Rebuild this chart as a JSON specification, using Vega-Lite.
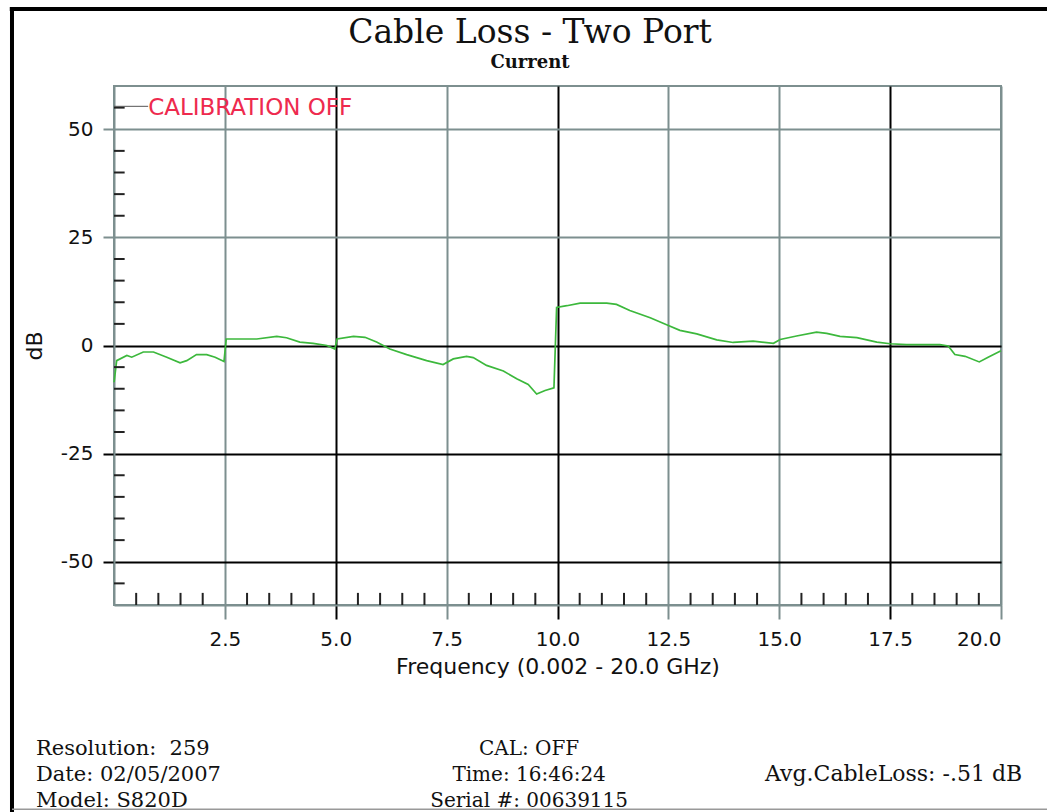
{
  "$schema": "https://vega.github.io/schema/vega-lite/v6.json",
  "width": 887,
  "height": 519,
  "autosize": "none",
  "padding": {"left": 114, "top": 86, "right": 46, "bottom": 207},
  "background": "white",
  "config": {
    "view": {"stroke": "#7d8f8f", "strokeWidth": 2},
    "axis": {
      "labelFont": "DejaVu Sans",
      "labelFontSize": 20,
      "labelColor": "#111",
      "titleFont": "DejaVu Sans",
      "titleFontSize": 22,
      "titleFontWeight": "normal",
      "titleColor": "#111",
      "domainColor": "#7d8f8f",
      "domainWidth": 2,
      "gridWidth": 2,
      "tickWidth": 2
    }
  },
  "datasets": {
    "trace": [
      {"f": 0.002, "db": -8.5}, {"f": 0.06, "db": -3.5}, {"f": 0.29, "db": -2.3}, {"f": 0.40, "db": -2.7},
      {"f": 0.66, "db": -1.5}, {"f": 0.89, "db": -1.5}, {"f": 1.19, "db": -2.7}, {"f": 1.49, "db": -4.0},
      {"f": 1.64, "db": -3.5}, {"f": 1.86, "db": -2.1}, {"f": 2.09, "db": -2.1}, {"f": 2.28, "db": -2.7},
      {"f": 2.48, "db": -3.7}, {"f": 2.53, "db": 1.5}, {"f": 2.84, "db": 1.5}, {"f": 3.22, "db": 1.5},
      {"f": 3.67, "db": 2.1}, {"f": 3.89, "db": 1.8}, {"f": 4.19, "db": 0.8}, {"f": 4.49, "db": 0.5},
      {"f": 4.80, "db": 0.0}, {"f": 4.98, "db": -0.8}, {"f": 5.03, "db": 1.5}, {"f": 5.40, "db": 2.1},
      {"f": 5.66, "db": 1.9}, {"f": 5.92, "db": 0.8}, {"f": 6.22, "db": -0.8}, {"f": 6.60, "db": -2.1},
      {"f": 7.05, "db": -3.5}, {"f": 7.42, "db": -4.4}, {"f": 7.65, "db": -3.1}, {"f": 7.95, "db": -2.5},
      {"f": 8.10, "db": -2.8}, {"f": 8.40, "db": -4.6}, {"f": 8.78, "db": -5.9}, {"f": 9.08, "db": -7.7},
      {"f": 9.34, "db": -9.0}, {"f": 9.53, "db": -11.2}, {"f": 9.72, "db": -10.4}, {"f": 9.92, "db": -9.8},
      {"f": 9.98, "db": 8.8}, {"f": 10.21, "db": 9.2}, {"f": 10.51, "db": 9.8}, {"f": 11.11, "db": 9.8},
      {"f": 11.33, "db": 9.5}, {"f": 11.63, "db": 8.1}, {"f": 12.09, "db": 6.4}, {"f": 12.46, "db": 4.8},
      {"f": 12.76, "db": 3.5}, {"f": 13.14, "db": 2.7}, {"f": 13.59, "db": 1.3}, {"f": 13.96, "db": 0.7},
      {"f": 14.41, "db": 1.0}, {"f": 14.87, "db": 0.5}, {"f": 15.02, "db": 1.4}, {"f": 15.39, "db": 2.2},
      {"f": 15.84, "db": 3.1}, {"f": 16.07, "db": 2.8}, {"f": 16.37, "db": 2.1}, {"f": 16.75, "db": 1.8},
      {"f": 17.20, "db": 0.8}, {"f": 17.50, "db": 0.4}, {"f": 17.87, "db": 0.2}, {"f": 18.62, "db": 0.2},
      {"f": 18.81, "db": -0.1}, {"f": 18.96, "db": -2.1}, {"f": 19.19, "db": -2.5}, {"f": 19.51, "db": -3.8},
      {"f": 19.71, "db": -2.7}, {"f": 20.0, "db": -1.2}
    ],
    "xminor": [
      {"f": 0.5}, {"f": 1.0}, {"f": 1.5}, {"f": 2.0},
      {"f": 3.0}, {"f": 3.5}, {"f": 4.0}, {"f": 4.5},
      {"f": 5.5}, {"f": 6.0}, {"f": 6.5}, {"f": 7.0},
      {"f": 8.0}, {"f": 8.5}, {"f": 9.0}, {"f": 9.5},
      {"f": 10.5}, {"f": 11.0}, {"f": 11.5}, {"f": 12.0},
      {"f": 13.0}, {"f": 13.5}, {"f": 14.0}, {"f": 14.5},
      {"f": 15.5}, {"f": 16.0}, {"f": 16.5}, {"f": 17.0},
      {"f": 18.0}, {"f": 18.5}, {"f": 19.0}, {"f": 19.5}
    ],
    "yminor": [
      {"db": 55}, {"db": 45}, {"db": 40}, {"db": 35}, {"db": 30},
      {"db": 20}, {"db": 15}, {"db": 10}, {"db": 5},
      {"db": -5}, {"db": -10}, {"db": -15}, {"db": -20},
      {"db": -30}, {"db": -35}, {"db": -40}, {"db": -45}, {"db": -55}
    ],
    "one": [{}]
  },
  "layer": [
    {
      "data": {"name": "trace"},
      "mark": {"type": "line", "color": "#3cb83c", "strokeWidth": 1.7, "interpolate": "linear"},
      "encoding": {
        "x": {
          "field": "f", "type": "quantitative",
          "scale": {"domain": [0, 20], "nice": false, "zero": false},
          "axis": {
            "values": [2.5, 5, 7.5, 10, 12.5, 15, 17.5, 20],
            "format": ".1f",
            "title": "Frequency (0.002 - 20.0 GHz)",
            "titlePadding": 7,
            "labelPadding": 10,
            "tickSize": 14,
            "grid": true,
            "gridColor": {"condition": {"test": "datum.value == 5 || datum.value == 10 || datum.value == 17.5", "value": "#000000"}, "value": "#7d8f8f"},
            "tickColor": {"condition": {"test": "datum.value == 5 || datum.value == 10 || datum.value == 17.5", "value": "#000000"}, "value": "#7d8f8f"}
          }
        },
        "y": {
          "field": "db", "type": "quantitative",
          "scale": {"domain": [-60, 60], "nice": false, "zero": false},
          "axis": {
            "values": [-50, -25, 0, 25, 50],
            "labelExpr": "'' + datum.value",
            "title": "dB",
            "titlePadding": 14,
            "labelPadding": 10,
            "tickSize": 11,
            "grid": true,
            "gridColor": {"condition": {"test": "datum.value <= 0", "value": "#000000"}, "value": "#7d8f8f"},
            "tickColor": {"condition": {"test": "datum.value <= 0", "value": "#000000"}, "value": "#7d8f8f"}
          }
        }
      }
    },
    {
      "data": {"name": "xminor"},
      "mark": {"type": "rule", "color": "#222", "strokeWidth": 2},
      "encoding": {
        "x": {"field": "f", "type": "quantitative"},
        "y": {"datum": -60},
        "y2": {"datum": -57.2}
      }
    },
    {
      "data": {"name": "yminor"},
      "mark": {"type": "rule", "color": "#222", "strokeWidth": 2},
      "encoding": {
        "y": {"field": "db", "type": "quantitative"},
        "x": {"datum": 0},
        "x2": {"datum": 0.24}
      }
    },
    {
      "data": {"name": "one"},
      "mark": {"type": "rule", "color": "#555", "strokeWidth": 1},
      "encoding": {"x": {"datum": 0}, "x2": {"datum": 0.77}, "y": {"datum": 55.3}}
    },
    {
      "data": {"name": "one"},
      "mark": {"type": "text", "align": "left", "baseline": "middle", "font": "DejaVu Sans", "fontSize": 23, "color": "#ee2a4e"},
      "encoding": {"x": {"datum": 0.77}, "y": {"datum": 54.9}, "text": {"value": "CALIBRATION OFF"}}
    },
    {
      "data": {"name": "one"},
      "mark": {"type": "text", "align": "center", "baseline": "alphabetic", "font": "DejaVu Serif", "fontSize": 33, "color": "#111"},
      "encoding": {"x": {"datum": 9.38}, "y": {"datum": 69.9}, "text": {"value": "Cable Loss - Two Port"}}
    },
    {
      "data": {"name": "one"},
      "mark": {"type": "text", "align": "center", "baseline": "alphabetic", "font": "DejaVu Serif", "fontSize": 18, "fontWeight": "bold", "color": "#111"},
      "encoding": {"x": {"datum": 9.38}, "y": {"datum": 64.2}, "text": {"value": "Current"}}
    },
    {
      "data": {"name": "one"},
      "mark": {"type": "text", "align": "left", "baseline": "alphabetic", "font": "DejaVu Serif", "fontSize": 21, "lineHeight": 26, "color": "#111"},
      "encoding": {"x": {"datum": -1.76}, "y": {"datum": -94.6}, "text": {"value": ["Resolution:\u00a0 259", "Date: 02/05/2007", "Model: S820D"]}}
    },
    {
      "data": {"name": "one"},
      "mark": {"type": "text", "align": "center", "baseline": "alphabetic", "font": "DejaVu Serif", "fontSize": 20, "lineHeight": 26, "color": "#111"},
      "encoding": {"x": {"datum": 9.36}, "y": {"datum": -94.6}, "text": {"value": ["CAL: OFF", "Time: 16:46:24", "Serial #: 00639115"]}}
    },
    {
      "data": {"name": "one"},
      "mark": {"type": "text", "align": "left", "baseline": "alphabetic", "font": "DejaVu Serif", "fontSize": 22, "color": "#111"},
      "encoding": {"x": {"datum": 14.68}, "y": {"datum": -100.6}, "text": {"value": "Avg.CableLoss: -.51 dB"}}
    },
    {
      "data": {"name": "one"},
      "mark": {"type": "rule", "color": "#000", "strokeWidth": 4},
      "encoding": {"x": {"datum": -2.3}, "y": {"datum": 78.2}, "y2": {"datum": -108}}
    },
    {
      "data": {"name": "one"},
      "mark": {"type": "rule", "color": "#000", "strokeWidth": 4},
      "encoding": {"x": {"datum": -2.35}, "x2": {"datum": 21.1}, "y": {"datum": 77.8}}
    },
    {
      "data": {"name": "one"},
      "mark": {"type": "rule", "color": "#999", "strokeWidth": 1.5},
      "encoding": {"x": {"datum": -2.3}, "x2": {"datum": 21.1}, "y": {"datum": -107.2}}
    }
  ]
}
